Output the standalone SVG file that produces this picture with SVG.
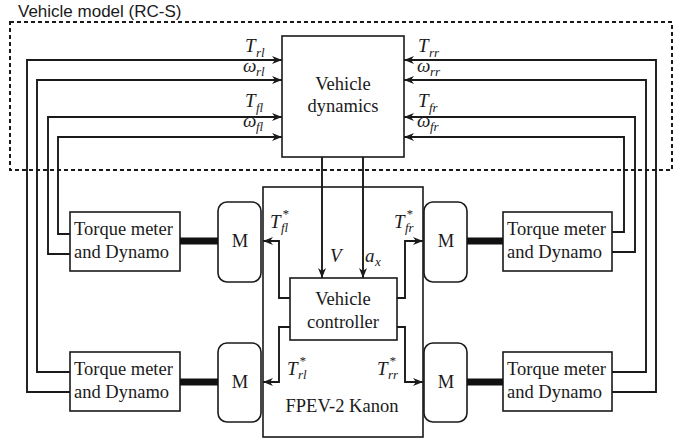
<svg xmlns="http://www.w3.org/2000/svg" width="682" height="438" viewBox="0 0 682 438">
<defs>
<marker id="arr" markerUnits="userSpaceOnUse" markerWidth="11" markerHeight="9" refX="10" refY="4.5" orient="auto">
<path d="M0,0.5 L10,4.5 L0,8.5 L3,4.5 z" fill="#1a1a1a"/>
</marker>
<style>
.box{fill:#fff;stroke:#1a1a1a;stroke-width:1.6}
.con{fill:none;stroke:#1a1a1a;stroke-width:1.9;marker-end:url(#arr)}
text{font-family:'Liberation Serif','Times New Roman',serif}
.t{font-size:18.5px;fill:#1a1a1a}
.c{text-anchor:middle}
.mi{font-style:italic;font-size:19px;fill:#1a1a1a}
.sub{font-style:italic;font-size:13px;fill:#1a1a1a}
.shaft{fill:#111}
</style>
</defs>
<g id="vehicle-model">
<rect x="10" y="22" width="662" height="148" fill="none" stroke="#1a1a1a" stroke-width="2" stroke-dasharray="4,3"/>
<text x="18" y="17" style="font-family:'Liberation Sans',Arial,sans-serif;font-size:17px;fill:#1a1a1a">Vehicle model (RC-S)</text>
</g>
<g id="vehicle-dynamics" font-family="Liberation Serif, serif">
<rect class="box" x="282" y="36" width="122" height="121"/>
<text class="t c" x="343" y="90">Vehicle</text>
<text class="t c" x="343" y="112">dynamics</text>
</g>
<g id="fpev">
<rect class="box" x="263" y="187" width="160" height="250"/>
<text class="t c" x="342" y="412">FPEV-2 Kanon</text>
</g>
<g id="vehicle-controller">
<rect class="box" x="290" y="278" width="107" height="62"/>
<text class="t c" x="343" y="305">Vehicle</text>
<text class="t c" x="343" y="328">controller</text>
</g>
<g id="tm-fl">
<rect class="box" x="70" y="212" width="110" height="59"/>
<text class="t" x="74" y="235">Torque meter</text>
<text class="t" x="74" y="258">and Dynamo</text>
</g>
<g id="tm-rl">
<rect class="box" x="70" y="352" width="110" height="59"/>
<text class="t" x="74" y="375">Torque meter</text>
<text class="t" x="74" y="398">and Dynamo</text>
</g>
<g id="tm-fr">
<rect class="box" x="503" y="212" width="109" height="59"/>
<text class="t" x="507" y="235">Torque meter</text>
<text class="t" x="507" y="258">and Dynamo</text>
</g>
<g id="tm-rr">
<rect class="box" x="503" y="352" width="109" height="59"/>
<text class="t" x="507" y="375">Torque meter</text>
<text class="t" x="507" y="398">and Dynamo</text>
</g>
<g id="m-fl">
<rect class="box" x="218" y="202" width="43" height="80" rx="9"/>
<text class="t c" x="240" y="247">M</text>
</g>
<g id="m-rl">
<rect class="box" x="218" y="343" width="43" height="79" rx="9"/>
<text class="t c" x="240" y="388">M</text>
</g>
<g id="m-fr">
<rect class="box" x="424" y="202" width="43" height="80" rx="9"/>
<text class="t c" x="446" y="247">M</text>
</g>
<g id="m-rr">
<rect class="box" x="424" y="343" width="43" height="79" rx="9"/>
<text class="t c" x="446" y="388">M</text>
</g>
<g id="connectors">
<rect class="shaft" x="180" y="237.5" width="38" height="7"/>
<rect class="shaft" x="180" y="378.5" width="38" height="7"/>
<rect class="shaft" x="467" y="237.5" width="36" height="7"/>
<rect class="shaft" x="467" y="378.5" width="36" height="7"/>
<path class="con" d="M70,392 H27 V60 H282"/>
<path class="con" d="M70,372 H37 V80 H282"/>
<path class="con" d="M70,254 H48 V117 H282"/>
<path class="con" d="M70,234 H58 V137 H282"/>
<path class="con" d="M612,392 H656 V60 H404"/>
<path class="con" d="M612,372 H646 V80 H404"/>
<path class="con" d="M612,252 H635 V117 H404"/>
<path class="con" d="M612,232 H624 V137 H404"/>
<path class="con" d="M322,157 V278"/>
<path class="con" d="M363,157 V278"/>
<path class="con" d="M290,298 H279 V241 H263"/>
<path class="con" d="M290,327 H279 V382 H263"/>
<path class="con" d="M397,298 H405 V241 H423"/>
<path class="con" d="M397,327 H405 V382 H423"/>
</g>
<g id="labels">
<text class="mi" x="245" y="52">T</text><text class="sub" x="256" y="57">rl</text>
<text class="mi" x="243" y="72">ω</text><text class="sub" x="256" y="76">rl</text>
<text class="mi" x="245" y="107">T</text><text class="sub" x="256" y="112">fl</text>
<text class="mi" x="243" y="127">ω</text><text class="sub" x="256" y="131">fl</text>
<text class="mi" x="418" y="52">T</text><text class="sub" x="429" y="57">rr</text>
<text class="mi" x="417" y="72">ω</text><text class="sub" x="430" y="76">rr</text>
<text class="mi" x="418" y="107">T</text><text class="sub" x="429" y="112">fr</text>
<text class="mi" x="417" y="127">ω</text><text class="sub" x="430" y="131">fr</text>
<text class="mi" x="270" y="228">T</text><text class="sub" x="282" y="218">*</text><text class="sub" x="281" y="232">fl</text>
<text class="mi" x="394" y="228">T</text><text class="sub" x="406" y="218">*</text><text class="sub" x="405" y="232">fr</text>
<text class="mi" x="287" y="375">T</text><text class="sub" x="299" y="365">*</text><text class="sub" x="298" y="379">rl</text>
<text class="mi" x="377" y="375">T</text><text class="sub" x="389" y="365">*</text><text class="sub" x="388" y="379">rr</text>
<text class="mi" x="330" y="262">V</text>
<text class="mi" x="365" y="262">a</text><text class="sub" x="375" y="266">x</text>
</g>
</svg>
